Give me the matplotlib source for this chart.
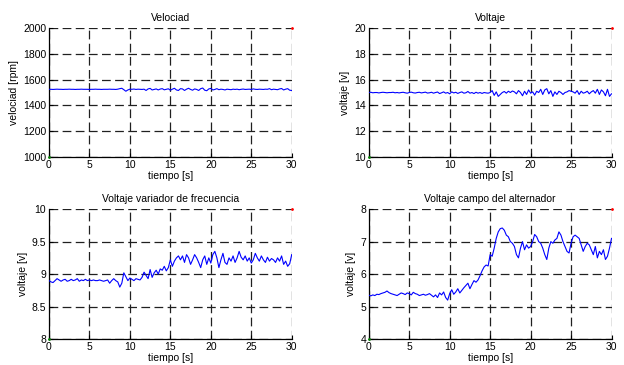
import matplotlib
matplotlib.use("Agg")
import matplotlib.pyplot as plt
import numpy as np

plt.rcParams['font.family'] = ['Liberation Sans', 'DejaVu Sans']
plt.rcParams['font.size'] = 7.5

# muestras cada 0.25 s, una fila = 2 s
velocidad = [
    1525, 1525, 1524, 1525, 1526, 1525, 1525, 1524,
    1525, 1525, 1526, 1525, 1525, 1524, 1525, 1525,
    1526, 1525, 1525, 1525, 1524, 1525, 1525, 1526,
    1525, 1525, 1524, 1525, 1525, 1525, 1526, 1525,
    1525, 1524, 1526, 1530, 1533, 1522, 1510, 1520,
    1526, 1525, 1527, 1524, 1526, 1525, 1524, 1526,
    1516, 1528, 1532, 1520, 1524, 1528, 1520, 1527,
    1530, 1521, 1525, 1529, 1518, 1526, 1533, 1520,
    1516, 1530, 1528, 1516, 1526, 1533, 1524, 1518,
    1528, 1524, 1516, 1530, 1535, 1518, 1514, 1528,
    1532, 1520, 1524, 1530, 1522, 1526, 1524, 1520,
    1526, 1524, 1522, 1526, 1524, 1526, 1522, 1525,
    1527, 1524, 1525, 1526, 1524, 1528, 1525, 1524,
    1526, 1525, 1524, 1526, 1525, 1530, 1522, 1526,
    1524, 1522, 1528, 1531, 1520, 1526, 1530, 1518,
    1516,
]

voltaje = [
    15.0, 15.02, 14.98, 15.0, 15.0, 14.97, 15.0, 15.02,
    15.0, 14.98, 15.0, 15.0, 15.02, 14.98, 15.0, 14.97,
    15.0, 15.02, 14.98, 14.95, 15.0, 15.03, 14.98, 14.96,
    15.0, 15.02, 14.97, 15.0, 15.03, 14.96, 14.98, 15.02,
    14.95, 15.0, 15.04, 14.92, 14.98, 15.05, 14.95, 15.0,
    14.9, 15.05, 14.97, 15.02, 14.93, 15.0, 15.05, 14.95,
    14.98, 15.08, 14.95, 15.0, 14.92, 15.02, 14.95, 15.0,
    14.93, 15.0, 14.97, 14.95, 15.0, 15.15, 14.78, 15.05,
    14.7, 14.85, 15.0, 15.08, 14.95, 15.1, 15.0, 15.12,
    15.05, 14.9, 15.15, 15.0, 14.75, 15.1, 14.85, 15.2,
    14.95, 15.05, 14.8, 15.1, 15.0, 15.25, 14.85, 15.2,
    15.3, 14.9, 15.15, 14.7, 15.05, 14.85, 15.1, 15.0,
    14.85, 15.0, 15.05, 15.15, 15.1, 15.05, 14.95, 15.15,
    14.85, 15.1, 14.95, 15.0, 15.1, 14.9, 15.05, 15.15,
    14.95, 15.25, 14.85, 15.2, 15.05, 14.75, 15.25, 14.7,
    14.9,
]

v_variador = [
    8.90, 8.88, 8.87, 8.90, 8.93, 8.91, 8.89, 8.91,
    8.92, 8.89, 8.90, 8.92, 8.90, 8.91, 8.93, 8.89,
    8.91, 8.90, 8.92, 8.90, 8.91, 8.90, 8.91, 8.90,
    8.90, 8.91, 8.90, 8.89, 8.90, 8.91, 8.86, 8.90,
    8.93, 8.90, 8.88, 8.80, 8.86, 9.02, 8.96, 8.90,
    8.94, 8.92, 8.90, 8.93, 8.92, 8.91, 8.95, 9.03,
    8.98, 8.93, 9.07, 8.95, 9.02, 9.06, 9.00, 9.08,
    9.06, 9.12, 9.05, 9.10, 9.22, 9.12, 9.20, 9.25,
    9.28, 9.22, 9.28, 9.18, 9.30, 9.25, 9.15, 9.22,
    9.30, 9.25, 9.18, 9.10, 9.22, 9.28, 9.15, 9.25,
    9.17, 9.30, 9.35, 9.25, 9.10, 9.22, 9.32, 9.18,
    9.15, 9.25, 9.20, 9.28, 9.18, 9.25, 9.35, 9.26,
    9.22, 9.28, 9.20, 9.25, 9.17, 9.22, 9.32, 9.25,
    9.20, 9.28, 9.22, 9.18, 9.26, 9.20, 9.24, 9.22,
    9.18, 9.25, 9.20, 9.28, 9.15, 9.20, 9.12, 9.16,
    9.30,
]

v_campo = [
    5.35, 5.33, 5.36, 5.34, 5.38, 5.37, 5.40, 5.42,
    5.44, 5.48, 5.43, 5.40, 5.38, 5.36, 5.34, 5.38,
    5.42, 5.40, 5.37, 5.42, 5.40, 5.36, 5.44, 5.40,
    5.38, 5.34, 5.36, 5.38, 5.35, 5.37, 5.40, 5.35,
    5.30, 5.36, 5.28, 5.42, 5.36, 5.45, 5.28, 5.20,
    5.40, 5.52, 5.38, 5.45, 5.55, 5.42, 5.50, 5.58,
    5.65, 5.72, 5.55, 5.68, 5.80, 5.75, 5.82, 5.95,
    6.10, 6.22, 6.28, 6.25, 6.60, 6.55, 6.80, 7.10,
    7.30, 7.40, 7.42, 7.35, 7.20, 7.15, 7.00, 6.95,
    6.85, 6.60, 6.50, 6.80, 7.00, 6.75, 6.90, 6.80,
    6.85, 7.00, 7.22, 7.15, 7.00, 6.95, 6.80, 6.60,
    6.45, 6.80, 7.00, 6.95, 7.05, 7.10, 7.30, 7.20,
    7.00, 6.85, 6.70, 6.65, 6.95, 7.15, 7.20, 7.15,
    7.10, 6.90, 6.70, 6.85, 6.95, 6.90, 6.75, 6.60,
    6.85, 6.50, 6.70, 6.60, 6.75, 6.45, 6.55, 6.80,
    7.10,
]

titulos = ["Velociad", "Voltaje", "Voltaje variador de frecuencia",
           "Voltaje campo del alternador"]
ylabels = ["velociad [rpm]", "voltaje [v]", "voltaje [v]", "voltaje [v]"]
ylims = [(1000, 2000), (10, 20), (8, 10), (4, 8)]
yticks = [[1000, 1200, 1400, 1600, 1800, 2000],
          [10, 12, 14, 16, 18, 20],
          [8, 8.5, 9, 9.5, 10],
          [4, 5, 6, 7, 8]]
series = [velocidad, voltaje, v_variador, v_campo]

fig = plt.figure(figsize=(6.24, 3.65), dpi=100)
posiciones = [
    [0.0785, 0.570, 0.389, 0.353],
    [0.591, 0.570, 0.389, 0.353],
    [0.0785, 0.071, 0.389, 0.356],
    [0.591, 0.071, 0.389, 0.356],
]

for i in range(4):
    ax = fig.add_axes(posiciones[i])
    y = series[i]
    t = np.linspace(0, 30, len(y))
    ax.plot(t, y, color=(0, 0, 1), lw=0.8, zorder=3)
    ymin, ymax = ylims[i]
    # puntos de los extremos
    ax.plot([30], [ymax], '.', color='red', ms=2, zorder=4, clip_on=False)
    ax.plot([0], [ymin], '.', color='green', ms=2, zorder=4, clip_on=False)
    ax.set_xlim(0, 30)
    ax.set_ylim(ymin, ymax)
    ax.set_xticks([0, 5, 10, 15, 20, 25, 30])
    ax.set_yticks(yticks[i])
    ax.set_yticklabels([f"{v:g}" for v in yticks[i]])
    ax.grid(True, color='#202020', ls=(0, (7, 3.5)), lw=0.9)
    for s in ['top', 'right']:
        ax.spines[s].set_visible(False)
    for s in ['left', 'bottom']:
        ax.spines[s].set_linewidth(0.9)
    ax.tick_params(direction='in', length=3, width=0.8, pad=2, labelsize=7.5)
    ax.set_title(titulos[i], fontsize=7.5, pad=5)
    ax.set_xlabel("tiempo [s]", fontsize=7.5, labelpad=1)
    ax.set_ylabel(ylabels[i], fontsize=7.5, labelpad=3)

fig.savefig("out.png", dpi=100)
